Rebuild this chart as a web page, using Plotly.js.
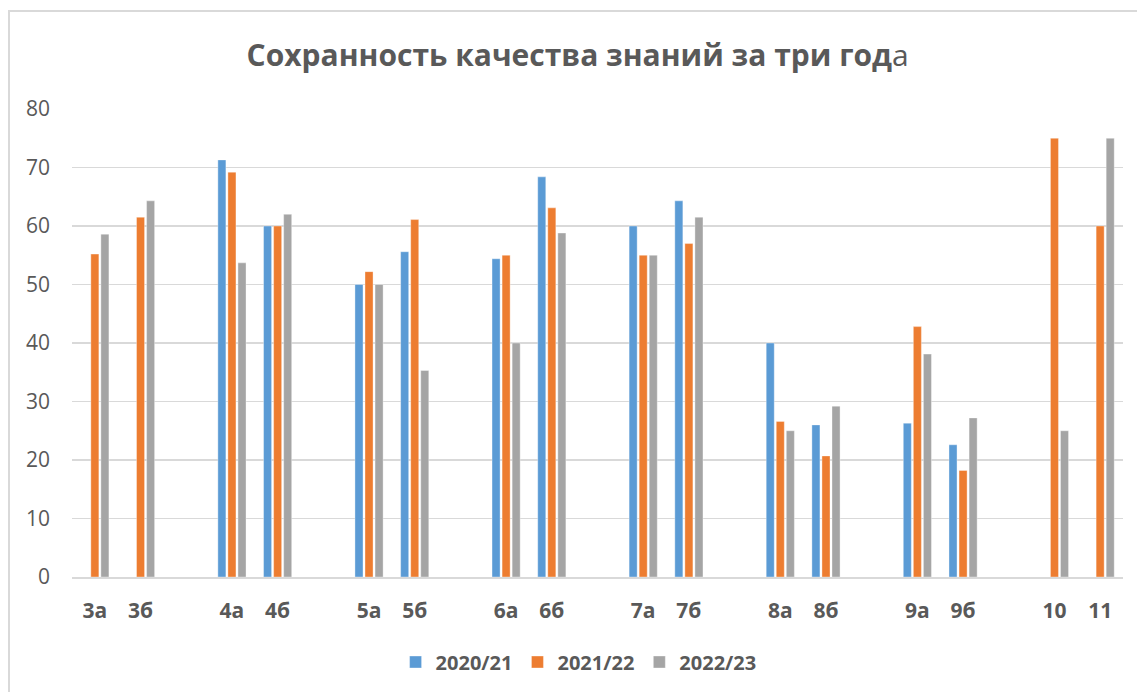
<!DOCTYPE html>
<html>
<head>
<meta charset="utf-8">
<script src="https://cdn.plot.ly/plotly-3.0.1.min.js"></script>
<style>
  html, body { margin: 0; padding: 0; background: #fff; }
  #wrap { position: relative; width: 1137px; height: 692px; overflow: hidden; }
  #chart { position: absolute; left: 0; top: 0; width: 1137px; height: 692px; }
  .bl { position: absolute; left: 8px; top: 10px; width: 2px; height: 700px; background: #D9D9D9; }
  .bt { position: absolute; left: 8px; top: 10px; width: 1140px; height: 2px; background: #D9D9D9; }
</style>
</head>
<body>
<div id="wrap">
  <div id="chart"></div>
  <div class="bl"></div>
  <div class="bt"></div>
</div>
<script>
// Categories (blank entries are spacer slots between class pairs)
const categories = ["3а", "3б", " ", "4а", "4б", "  ", "5а", "5б", "   ", "6а", "6б", "    ",
                    "7а", "7б", "     ", "8а", "8б", "      ", "9а", "9б", "       ", "10", "11"];

const y2020_21 = [null, null, null, 71.3, 60, null, 50, 55.6, null, 54.4, 68.4, null,
                  60, 64.3, null, 40, 26, null, 26.3, 22.6, null, null, null];
const y2021_22 = [55.2, 61.5, null, 69.2, 60, null, 52.2, 61.1, null, 55, 63.1, null,
                  55, 57, null, 26.6, 20.7, null, 42.8, 18.2, null, 75, 60];
const y2022_23 = [58.6, 64.3, null, 53.7, 62, null, 50, 35.3, null, 40, 58.8, null,
                  55, 61.5, null, 25, 29.2, null, 38.1, 27.2, null, 25, 75];

const seriesNames = ["2020/21", "2021/22", "2022/23"];
const yTicks = [0, 10, 20, 30, 40, 50, 60, 70, 80];

const colors = ["#5B9BD5", "#ED7D31", "#A5A5A5"];
const seriesData = [y2020_21, y2021_22, y2022_23];

const traces = seriesData.map((ys, i) => ({
  type: "bar",
  name: seriesNames[i],
  x: categories,
  y: ys,
  marker: { color: colors[i], line: { color: "rgba(255,255,255,0.6)", width: 0.6 } },
  hoverinfo: "x+y+name"
}));

const layout = {
  width: 1137,
  height: 692,
  paper_bgcolor: "#ffffff",
  plot_bgcolor: "#ffffff",
  margin: { l: 72, r: 14, t: 109, b: 115 },
  title: {
    text: "<b>Сохранность качества знаний за три год</b>а",
    font: { family: "Open Sans, sans-serif", size: 30, color: "#595959" },
    x: 0.508, xanchor: "center",
    y: 1 - 55 / 692, yref: "container", yanchor: "middle"
  },
  barmode: "group",
  bargap: 0.34,
  bargroupgap: 0.2,
  xaxis: {
    type: "category",
    categoryorder: "array",
    categoryarray: categories,
    tickfont: { family: "Open Sans, sans-serif", size: 21, color: "#595959", weight: "bold" },
    ticks: "",
    ticklabelstandoff: 14,
    showline: true,
    linecolor: "#D9D9D9",
    linewidth: 1.5,
    showgrid: false,
    zeroline: false,
    fixedrange: true
  },
  yaxis: {
    range: [0, 80],
    tickvals: yTicks,
    ticktext: yTicks.map(String),
    tickfont: { family: "Open Sans, sans-serif", size: 21, color: "#595959" },
    ticks: "",
    ticklabelstandoff: 21,
    showgrid: true,
    gridcolor: "#D9D9D9",
    gridwidth: 1.5,
    zeroline: false,
    showline: false,
    fixedrange: true
  },
  showlegend: true,
  legend: {
    orientation: "h",
    x: 0.482, xanchor: "center",
    y: 1 - 662 / 692, yref: "container", yanchor: "middle",
    font: { family: "Open Sans, sans-serif", size: 20, color: "#595959", weight: "bold" },
    itemwidth: 30,
    traceorder: "normal"
  }
};

Plotly.newPlot("chart", traces, layout, { displayModeBar: false, staticPlot: true });
</script>
</body>
</html>
